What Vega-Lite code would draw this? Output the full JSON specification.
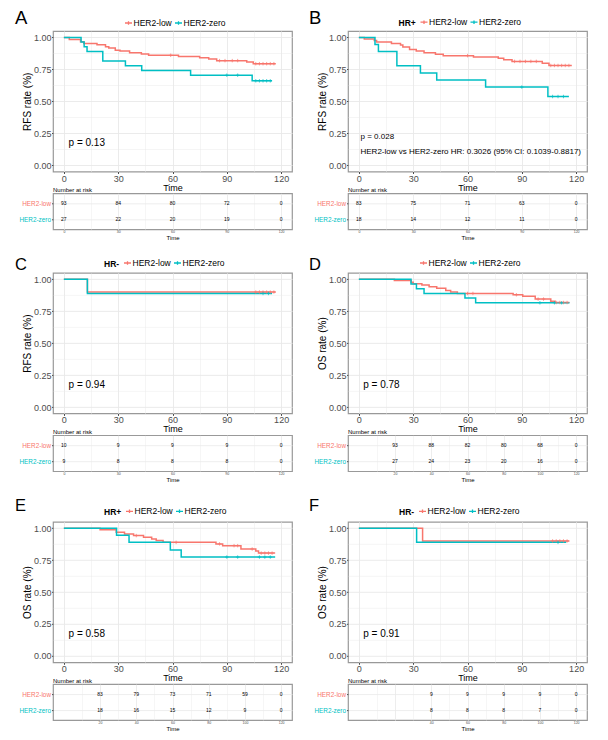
{
 "$schema": "https://vega.github.io/schema/vega-lite/v6.json",
 "background": "white",
 "padding": {"left": 14, "top": 8, "right": 5, "bottom": 5},
 "config": {"font": "Liberation Sans", "view": {"stroke": "#999999", "strokeWidth": 1.2}},
 "datasets": {
  "km": [
   {"panel":"A","group":"HER2-low","time":0,"surv":1},{"panel":"A","group":"HER2-low","time":3,"surv":0.984},{"panel":"A","group":"HER2-low","time":9.2,"surv":0.966},{"panel":"A","group":"HER2-low","time":11,"surv":0.953},{"panel":"A","group":"HER2-low","time":18.3,"surv":0.943},{"panel":"A","group":"HER2-low","time":23,"surv":0.927},{"panel":"A","group":"HER2-low","time":24.8,"surv":0.917},{"panel":"A","group":"HER2-low","time":28.4,"surv":0.9},{"panel":"A","group":"HER2-low","time":31,"surv":0.893},{"panel":"A","group":"HER2-low","time":36.3,"surv":0.88},{"panel":"A","group":"HER2-low","time":42.8,"surv":0.87},{"panel":"A","group":"HER2-low","time":46.8,"surv":0.86},{"panel":"A","group":"HER2-low","time":63.3,"surv":0.85},{"panel":"A","group":"HER2-low","time":75,"surv":0.84},{"panel":"A","group":"HER2-low","time":80,"surv":0.83},{"panel":"A","group":"HER2-low","time":84.4,"surv":0.818},{"panel":"A","group":"HER2-low","time":101,"surv":0.807},{"panel":"A","group":"HER2-low","time":104.6,"surv":0.794},{"panel":"A","group":"HER2-low","time":117,"surv":0.794},
   {"panel":"A","group":"HER2-zero","time":0,"surv":1},{"panel":"A","group":"HER2-zero","time":9.5,"surv":0.963},{"panel":"A","group":"HER2-zero","time":11.2,"surv":0.926},{"panel":"A","group":"HER2-zero","time":12.8,"surv":0.889},{"panel":"A","group":"HER2-zero","time":21.5,"surv":0.815},{"panel":"A","group":"HER2-zero","time":34,"surv":0.778},{"panel":"A","group":"HER2-zero","time":43,"surv":0.741},{"panel":"A","group":"HER2-zero","time":70,"surv":0.704},{"panel":"A","group":"HER2-zero","time":104,"surv":0.66},{"panel":"A","group":"HER2-zero","time":115,"surv":0.66},
   {"panel":"B","group":"HER2-low","time":0,"surv":1},{"panel":"B","group":"HER2-low","time":3,"surv":0.988},{"panel":"B","group":"HER2-low","time":8.5,"surv":0.976},{"panel":"B","group":"HER2-low","time":9.8,"surv":0.964},{"panel":"B","group":"HER2-low","time":18,"surv":0.952},{"panel":"B","group":"HER2-low","time":23,"surv":0.94},{"panel":"B","group":"HER2-low","time":24.3,"surv":0.924},{"panel":"B","group":"HER2-low","time":28,"surv":0.906},{"panel":"B","group":"HER2-low","time":31.7,"surv":0.893},{"panel":"B","group":"HER2-low","time":36,"surv":0.88},{"panel":"B","group":"HER2-low","time":42.3,"surv":0.867},{"panel":"B","group":"HER2-low","time":46.6,"surv":0.857},{"panel":"B","group":"HER2-low","time":63.3,"surv":0.846},{"panel":"B","group":"HER2-low","time":77,"surv":0.836},{"panel":"B","group":"HER2-low","time":80,"surv":0.825},{"panel":"B","group":"HER2-low","time":84.6,"surv":0.812},{"panel":"B","group":"HER2-low","time":101.3,"surv":0.797},{"panel":"B","group":"HER2-low","time":105,"surv":0.78},{"panel":"B","group":"HER2-low","time":117.6,"surv":0.78},
   {"panel":"B","group":"HER2-zero","time":0,"surv":1},{"panel":"B","group":"HER2-zero","time":8.9,"surv":0.944},{"panel":"B","group":"HER2-zero","time":10.8,"surv":0.889},{"panel":"B","group":"HER2-zero","time":21,"surv":0.778},{"panel":"B","group":"HER2-zero","time":34,"surv":0.722},{"panel":"B","group":"HER2-zero","time":43,"surv":0.667},{"panel":"B","group":"HER2-zero","time":70,"surv":0.611},{"panel":"B","group":"HER2-zero","time":104.4,"surv":0.537},{"panel":"B","group":"HER2-zero","time":116,"surv":0.537},
   {"panel":"C","group":"HER2-low","time":0,"surv":1},{"panel":"C","group":"HER2-low","time":13,"surv":0.9},{"panel":"C","group":"HER2-low","time":117,"surv":0.9},
   {"panel":"C","group":"HER2-zero","time":0,"surv":1},{"panel":"C","group":"HER2-zero","time":13,"surv":0.889},{"panel":"C","group":"HER2-zero","time":115,"surv":0.889},
   {"panel":"D","group":"HER2-low","time":0,"surv":1},{"panel":"D","group":"HER2-low","time":19.6,"surv":0.99},{"panel":"D","group":"HER2-low","time":28.9,"surv":0.976},{"panel":"D","group":"HER2-low","time":30,"surv":0.966},{"panel":"D","group":"HER2-low","time":34.8,"surv":0.955},{"panel":"D","group":"HER2-low","time":38.8,"surv":0.942},{"panel":"D","group":"HER2-low","time":43,"surv":0.929},{"panel":"D","group":"HER2-low","time":48,"surv":0.913},{"panel":"D","group":"HER2-low","time":50.7,"surv":0.9},{"panel":"D","group":"HER2-low","time":54.4,"surv":0.889},{"panel":"D","group":"HER2-low","time":85.2,"surv":0.879},{"panel":"D","group":"HER2-low","time":90.5,"surv":0.868},{"panel":"D","group":"HER2-low","time":97.4,"surv":0.845},{"panel":"D","group":"HER2-low","time":106,"surv":0.829},{"panel":"D","group":"HER2-low","time":108.4,"surv":0.818},{"panel":"D","group":"HER2-low","time":116.3,"surv":0.818},
   {"panel":"D","group":"HER2-zero","time":0,"surv":1},{"panel":"D","group":"HER2-zero","time":28.8,"surv":0.963},{"panel":"D","group":"HER2-zero","time":31.8,"surv":0.926},{"panel":"D","group":"HER2-zero","time":36,"surv":0.889},{"panel":"D","group":"HER2-zero","time":58.6,"surv":0.853},{"panel":"D","group":"HER2-zero","time":64.5,"surv":0.816},{"panel":"D","group":"HER2-zero","time":116.3,"surv":0.816},
   {"panel":"E","group":"HER2-low","time":0,"surv":1},{"panel":"E","group":"HER2-low","time":20,"surv":0.988},{"panel":"E","group":"HER2-low","time":28.9,"surv":0.968},{"panel":"E","group":"HER2-low","time":33.5,"surv":0.955},{"panel":"E","group":"HER2-low","time":38.5,"surv":0.942},{"panel":"E","group":"HER2-low","time":44,"surv":0.929},{"panel":"E","group":"HER2-low","time":48.5,"surv":0.916},{"panel":"E","group":"HER2-low","time":51,"surv":0.903},{"panel":"E","group":"HER2-low","time":54.8,"surv":0.889},{"panel":"E","group":"HER2-low","time":84,"surv":0.877},{"panel":"E","group":"HER2-low","time":87.7,"surv":0.863},{"panel":"E","group":"HER2-low","time":97.8,"surv":0.837},{"panel":"E","group":"HER2-low","time":106,"surv":0.821},{"panel":"E","group":"HER2-low","time":107.5,"surv":0.805},{"panel":"E","group":"HER2-low","time":116.7,"surv":0.805},
   {"panel":"E","group":"HER2-zero","time":0,"surv":1},{"panel":"E","group":"HER2-zero","time":29.1,"surv":0.944},{"panel":"E","group":"HER2-zero","time":36,"surv":0.889},{"panel":"E","group":"HER2-zero","time":58.8,"surv":0.83},{"panel":"E","group":"HER2-zero","time":64.8,"surv":0.774},{"panel":"E","group":"HER2-zero","time":116.7,"surv":0.774},
   {"panel":"F","group":"HER2-low","time":0,"surv":1},{"panel":"F","group":"HER2-low","time":35.2,"surv":0.9},{"panel":"F","group":"HER2-low","time":116.3,"surv":0.9},
   {"panel":"F","group":"HER2-zero","time":0,"surv":1},{"panel":"F","group":"HER2-zero","time":31.9,"surv":0.889},{"panel":"F","group":"HER2-zero","time":114.5,"surv":0.889}
  ],
  "cens": [
   {"panel":"A","group":"HER2-low","time":59,"surv":0.86},{"panel":"A","group":"HER2-low","time":86,"surv":0.818},{"panel":"A","group":"HER2-low","time":89,"surv":0.818},{"panel":"A","group":"HER2-low","time":93,"surv":0.818},{"panel":"A","group":"HER2-low","time":96,"surv":0.818},{"panel":"A","group":"HER2-low","time":106,"surv":0.794},{"panel":"A","group":"HER2-low","time":108,"surv":0.794},{"panel":"A","group":"HER2-low","time":110,"surv":0.794},{"panel":"A","group":"HER2-low","time":112,"surv":0.794},{"panel":"A","group":"HER2-low","time":114,"surv":0.794},{"panel":"A","group":"HER2-low","time":116,"surv":0.794},
   {"panel":"A","group":"HER2-zero","time":90,"surv":0.704},{"panel":"A","group":"HER2-zero","time":96,"surv":0.704},{"panel":"A","group":"HER2-zero","time":106,"surv":0.66},{"panel":"A","group":"HER2-zero","time":108,"surv":0.66},{"panel":"A","group":"HER2-zero","time":110,"surv":0.66},{"panel":"A","group":"HER2-zero","time":112,"surv":0.66},{"panel":"A","group":"HER2-zero","time":114,"surv":0.66},
   {"panel":"B","group":"HER2-low","time":60,"surv":0.857},{"panel":"B","group":"HER2-low","time":86,"surv":0.812},{"panel":"B","group":"HER2-low","time":89,"surv":0.812},{"panel":"B","group":"HER2-low","time":92,"surv":0.812},{"panel":"B","group":"HER2-low","time":95,"surv":0.812},{"panel":"B","group":"HER2-low","time":98,"surv":0.812},{"panel":"B","group":"HER2-low","time":106,"surv":0.78},{"panel":"B","group":"HER2-low","time":108,"surv":0.78},{"panel":"B","group":"HER2-low","time":110,"surv":0.78},{"panel":"B","group":"HER2-low","time":112,"surv":0.78},{"panel":"B","group":"HER2-low","time":114,"surv":0.78},{"panel":"B","group":"HER2-low","time":116,"surv":0.78},
   {"panel":"B","group":"HER2-zero","time":90,"surv":0.611},{"panel":"B","group":"HER2-zero","time":107,"surv":0.537},{"panel":"B","group":"HER2-zero","time":110,"surv":0.537},{"panel":"B","group":"HER2-zero","time":113,"surv":0.537},
   {"panel":"C","group":"HER2-low","time":106,"surv":0.9},{"panel":"C","group":"HER2-low","time":108,"surv":0.9},{"panel":"C","group":"HER2-low","time":110,"surv":0.9},{"panel":"C","group":"HER2-low","time":112,"surv":0.9},{"panel":"C","group":"HER2-low","time":114,"surv":0.9},{"panel":"C","group":"HER2-low","time":116,"surv":0.9},
   {"panel":"C","group":"HER2-zero","time":110,"surv":0.889},{"panel":"C","group":"HER2-zero","time":113,"surv":0.889},
   {"panel":"D","group":"HER2-low","time":60,"surv":0.889},{"panel":"D","group":"HER2-low","time":63,"surv":0.889},{"panel":"D","group":"HER2-low","time":87,"surv":0.879},{"panel":"D","group":"HER2-low","time":99,"surv":0.845},{"panel":"D","group":"HER2-low","time":102,"surv":0.845},{"panel":"D","group":"HER2-low","time":109,"surv":0.818},{"panel":"D","group":"HER2-low","time":111,"surv":0.818},{"panel":"D","group":"HER2-low","time":113,"surv":0.818},{"panel":"D","group":"HER2-low","time":115,"surv":0.818},
   {"panel":"D","group":"HER2-zero","time":100,"surv":0.816},{"panel":"D","group":"HER2-zero","time":108,"surv":0.816},{"panel":"D","group":"HER2-zero","time":112,"surv":0.816},
   {"panel":"E","group":"HER2-low","time":40,"surv":0.942},{"panel":"E","group":"HER2-low","time":62,"surv":0.889},{"panel":"E","group":"HER2-low","time":86,"surv":0.877},{"panel":"E","group":"HER2-low","time":94,"surv":0.863},{"panel":"E","group":"HER2-low","time":96,"surv":0.863},{"panel":"E","group":"HER2-low","time":104,"surv":0.837},{"panel":"E","group":"HER2-low","time":109,"surv":0.805},{"panel":"E","group":"HER2-low","time":111,"surv":0.805},{"panel":"E","group":"HER2-low","time":113,"surv":0.805},{"panel":"E","group":"HER2-low","time":115,"surv":0.805},
   {"panel":"E","group":"HER2-zero","time":90,"surv":0.774},{"panel":"E","group":"HER2-zero","time":96,"surv":0.774},{"panel":"E","group":"HER2-zero","time":108,"surv":0.774},{"panel":"E","group":"HER2-zero","time":111,"surv":0.774},{"panel":"E","group":"HER2-zero","time":114,"surv":0.774},
   {"panel":"F","group":"HER2-low","time":107,"surv":0.9},{"panel":"F","group":"HER2-low","time":109,"surv":0.9},{"panel":"F","group":"HER2-low","time":111,"surv":0.9},{"panel":"F","group":"HER2-low","time":113,"surv":0.9},{"panel":"F","group":"HER2-low","time":115,"surv":0.9},
   {"panel":"F","group":"HER2-zero","time":110,"surv":0.889}
  ],
  "risk": [
   {"panel":"A","group":"HER2-low","time":0,"n":93},{"panel":"A","group":"HER2-low","time":30,"n":84},{"panel":"A","group":"HER2-low","time":60,"n":80},{"panel":"A","group":"HER2-low","time":90,"n":72},{"panel":"A","group":"HER2-low","time":120,"n":0},
   {"panel":"A","group":"HER2-zero","time":0,"n":27},{"panel":"A","group":"HER2-zero","time":30,"n":22},{"panel":"A","group":"HER2-zero","time":60,"n":20},{"panel":"A","group":"HER2-zero","time":90,"n":19},{"panel":"A","group":"HER2-zero","time":120,"n":0},
   {"panel":"B","group":"HER2-low","time":0,"n":83},{"panel":"B","group":"HER2-low","time":30,"n":75},{"panel":"B","group":"HER2-low","time":60,"n":71},{"panel":"B","group":"HER2-low","time":90,"n":63},{"panel":"B","group":"HER2-low","time":120,"n":0},
   {"panel":"B","group":"HER2-zero","time":0,"n":18},{"panel":"B","group":"HER2-zero","time":30,"n":14},{"panel":"B","group":"HER2-zero","time":60,"n":12},{"panel":"B","group":"HER2-zero","time":90,"n":11},{"panel":"B","group":"HER2-zero","time":120,"n":0},
   {"panel":"C","group":"HER2-low","time":0,"n":10},{"panel":"C","group":"HER2-low","time":30,"n":9},{"panel":"C","group":"HER2-low","time":60,"n":9},{"panel":"C","group":"HER2-low","time":90,"n":9},{"panel":"C","group":"HER2-low","time":120,"n":0},
   {"panel":"C","group":"HER2-zero","time":0,"n":9},{"panel":"C","group":"HER2-zero","time":30,"n":8},{"panel":"C","group":"HER2-zero","time":60,"n":8},{"panel":"C","group":"HER2-zero","time":90,"n":8},{"panel":"C","group":"HER2-zero","time":120,"n":0},
   {"panel":"D","group":"HER2-low","time":20,"n":93},{"panel":"D","group":"HER2-low","time":40,"n":88},{"panel":"D","group":"HER2-low","time":60,"n":82},{"panel":"D","group":"HER2-low","time":80,"n":80},{"panel":"D","group":"HER2-low","time":100,"n":68},{"panel":"D","group":"HER2-low","time":120,"n":0},
   {"panel":"D","group":"HER2-zero","time":20,"n":27},{"panel":"D","group":"HER2-zero","time":40,"n":24},{"panel":"D","group":"HER2-zero","time":60,"n":23},{"panel":"D","group":"HER2-zero","time":80,"n":20},{"panel":"D","group":"HER2-zero","time":100,"n":16},{"panel":"D","group":"HER2-zero","time":120,"n":0},
   {"panel":"E","group":"HER2-low","time":20,"n":83},{"panel":"E","group":"HER2-low","time":40,"n":79},{"panel":"E","group":"HER2-low","time":60,"n":73},{"panel":"E","group":"HER2-low","time":80,"n":71},{"panel":"E","group":"HER2-low","time":100,"n":59},{"panel":"E","group":"HER2-low","time":120,"n":0},
   {"panel":"E","group":"HER2-zero","time":20,"n":18},{"panel":"E","group":"HER2-zero","time":40,"n":16},{"panel":"E","group":"HER2-zero","time":60,"n":15},{"panel":"E","group":"HER2-zero","time":80,"n":12},{"panel":"E","group":"HER2-zero","time":100,"n":9},{"panel":"E","group":"HER2-zero","time":120,"n":0},
   {"panel":"F","group":"HER2-low","time":40,"n":9},{"panel":"F","group":"HER2-low","time":60,"n":9},{"panel":"F","group":"HER2-low","time":80,"n":9},{"panel":"F","group":"HER2-low","time":100,"n":9},{"panel":"F","group":"HER2-low","time":120,"n":0},
   {"panel":"F","group":"HER2-zero","time":40,"n":8},{"panel":"F","group":"HER2-zero","time":60,"n":8},{"panel":"F","group":"HER2-zero","time":80,"n":8},{"panel":"F","group":"HER2-zero","time":100,"n":7},{"panel":"F","group":"HER2-zero","time":120,"n":0}
  ]
 },
 "columns": 2,
 "bounds": "flush",
 "spacing": {"row": 21.3, "column": 56},
 "resolve": {"scale": {"color": "independent"}, "legend": {"color": "independent"}},
 "concat": [
  {
   "width": 239, "height": 140.5,
   "layer": [
    {"data": {"name": "km"}, "transform": [{"filter": "datum.panel === 'A'"}],
     "mark": {"type": "line", "interpolate": "step-after", "strokeWidth": 1.5},
     "encoding": {
      "x": {"field": "time", "type": "quantitative", "scale": {"domain": [-6, 126], "nice": false, "zero": false},
       "axis": {"values": [0,15,30,45,60,75,90,105,120], "tickCount": 50, "labelExpr": "datum.value % 30 === 0 ? datum.label : ''", "format": "d", "title": "Time", "titleFontSize": 9, "titleFontWeight": "normal", "titleColor": "black", "titlePadding": 0, "labelFontSize": 9, "labelColor": "#4d4d4d", "labelPadding": 0.5, "labelOverlap": false, "labelFlush": false, "tickSize": 2, "tickColor": "#4d4d4d", "tickOpacity": {"condition": {"test": "datum.value % 30 === 0", "value": 1}, "value": 0}, "grid": true, "gridColor": "#e9e9e9", "gridWidth": {"condition": {"test": "datum.value % 30 === 0", "value": 0.9}, "value": 0.45}, "domain": false}},
      "y": {"field": "surv", "type": "quantitative", "scale": {"domain": [-0.05, 1.05], "nice": false, "zero": false},
       "axis": {"values": [0,0.125,0.25,0.375,0.5,0.625,0.75,0.875,1], "tickCount": 50, "labelExpr": "(datum.value*4) % 1 === 0 ? format(datum.value, '.2f') : ''", "title": "RFS rate (%)", "titleFontSize": 10, "titleFontWeight": "normal", "titleColor": "black", "titlePadding": 1, "labelFontSize": 9, "labelColor": "#4d4d4d", "labelPadding": 0.5, "labelOverlap": false, "tickSize": 1.5, "tickColor": "#4d4d4d", "tickOpacity": {"condition": {"test": "(datum.value*4) % 1 === 0", "value": 1}, "value": 0}, "grid": true, "gridColor": "#e9e9e9", "gridWidth": {"condition": {"test": "(datum.value*4) % 1 === 0", "value": 0.9}, "value": 0.45}, "domain": false}},
      "color": {"field": "group", "type": "nominal", "scale": {"domain": ["HER2-low", "HER2-zero"], "range": ["#F8766D", "#00BFC4"]},
       "legend": {"orient": "none", "legendX": 71, "legendY": -12.5, "direction": "horizontal", "title": null, "labelFontSize": 8.5, "labelColor": "black", "symbolType": "M-1,0H1M0,-0.5V0.5", "symbolSize": 49, "symbolStrokeWidth": 1.3, "labelOffset": 0.5, "columnPadding": 0, "padding": 0}}
     }},
    {"data": {"name": "cens"}, "transform": [{"filter": "datum.panel === 'A'"}],
     "mark": {"type": "point", "shape": "M-1,0H1M0,-1V1", "filled": false, "size": 12, "strokeWidth": 0.7, "opacity": 1},
     "encoding": {"x": {"field": "time", "type": "quantitative"}, "y": {"field": "surv", "type": "quantitative"}, "color": {"field": "group", "type": "nominal", "legend": null}}},
    {"data": {"values": [{}]}, "mark": {"type": "text", "align": "left", "baseline": "middle", "fontSize": 10, "color": "black"},
     "encoding": {"x": {"datum": 2.6, "type": "quantitative"}, "y": {"datum": 0.175, "type": "quantitative"}, "text": {"value": "p = 0.13"}}},
    {"data": {"values": [{}]}, "mark": {"type": "text", "align": "left", "baseline": "alphabetic", "fontSize": 18.5, "color": "black"},
     "encoding": {"x": {"datum": -27, "type": "quantitative"}, "y": {"datum": 1.1017, "type": "quantitative"}, "text": {"value": "A"}}}
   ]
  },
  {
   "width": 239, "height": 140.5,
   "layer": [
    {"data": {"name": "km"}, "transform": [{"filter": "datum.panel === 'B'"}],
     "mark": {"type": "line", "interpolate": "step-after", "strokeWidth": 1.5},
     "encoding": {
      "x": {"field": "time", "type": "quantitative", "scale": {"domain": [-6, 126], "nice": false, "zero": false},
       "axis": {"values": [0,15,30,45,60,75,90,105,120], "tickCount": 50, "labelExpr": "datum.value % 30 === 0 ? datum.label : ''", "format": "d", "title": "Time", "titleFontSize": 9, "titleFontWeight": "normal", "titleColor": "black", "titlePadding": 0, "labelFontSize": 9, "labelColor": "#4d4d4d", "labelPadding": 0.5, "labelOverlap": false, "labelFlush": false, "tickSize": 2, "tickColor": "#4d4d4d", "tickOpacity": {"condition": {"test": "datum.value % 30 === 0", "value": 1}, "value": 0}, "grid": true, "gridColor": "#e9e9e9", "gridWidth": {"condition": {"test": "datum.value % 30 === 0", "value": 0.9}, "value": 0.45}, "domain": false}},
      "y": {"field": "surv", "type": "quantitative", "scale": {"domain": [-0.05, 1.05], "nice": false, "zero": false},
       "axis": {"values": [0,0.125,0.25,0.375,0.5,0.625,0.75,0.875,1], "tickCount": 50, "labelExpr": "(datum.value*4) % 1 === 0 ? format(datum.value, '.2f') : ''", "title": "RFS rate (%)", "titleFontSize": 10, "titleFontWeight": "normal", "titleColor": "black", "titlePadding": 1, "labelFontSize": 9, "labelColor": "#4d4d4d", "labelPadding": 0.5, "labelOverlap": false, "tickSize": 1.5, "tickColor": "#4d4d4d", "tickOpacity": {"condition": {"test": "(datum.value*4) % 1 === 0", "value": 1}, "value": 0}, "grid": true, "gridColor": "#e9e9e9", "gridWidth": {"condition": {"test": "(datum.value*4) % 1 === 0", "value": 0.9}, "value": 0.45}, "domain": false}},
      "color": {"field": "group", "type": "nominal", "scale": {"domain": ["HER2-low", "HER2-zero"], "range": ["#F8766D", "#00BFC4"]},
       "legend": {"orient": "none", "legendX": 50.5, "legendY": -13.3, "direction": "horizontal", "title": "HR+", "titleOrient": "left", "titleFontWeight": "bold", "titleFontSize": 8.5, "titleColor": "black", "titlePadding": 3, "labelFontSize": 8.5, "labelColor": "black", "symbolType": "M-1,0H1M0,-0.5V0.5", "symbolSize": 49, "symbolStrokeWidth": 1.3, "labelOffset": 0.5, "columnPadding": 0, "padding": 0}}
     }},
    {"data": {"name": "cens"}, "transform": [{"filter": "datum.panel === 'B'"}],
     "mark": {"type": "point", "shape": "M-1,0H1M0,-1V1", "filled": false, "size": 12, "strokeWidth": 0.7, "opacity": 1},
     "encoding": {"x": {"field": "time", "type": "quantitative"}, "y": {"field": "surv", "type": "quantitative"}, "color": {"field": "group", "type": "nominal", "legend": null}}},
    {"data": {"values": [{"label": "p = 0.028", "tx": 0.9, "ty": 0.222}, {"label": "HER2-low vs HER2-zero HR: 0.3026 (95% CI: 0.1039-0.8817)", "tx": 0.9, "ty": 0.1}]}, "mark": {"type": "text", "align": "left", "baseline": "middle", "fontSize": 8, "color": "black"},
     "encoding": {"x": {"field": "tx", "type": "quantitative"}, "y": {"field": "ty", "type": "quantitative"}, "text": {"field": "label"}}},
    {"data": {"values": [{}]}, "mark": {"type": "text", "align": "left", "baseline": "alphabetic", "fontSize": 18.5, "color": "black"},
     "encoding": {"x": {"datum": -27.5, "type": "quantitative"}, "y": {"datum": 1.1017, "type": "quantitative"}, "text": {"value": "B"}}}
   ]
  },
  {
   "width": 239, "height": 36,
   "title": {"text": "Number at risk", "anchor": "start", "frame": "group", "fontSize": 6, "fontWeight": "normal", "color": "black", "offset": 0.5},
   "data": {"name": "risk"}, "transform": [{"filter": "datum.panel === 'A'"}],
   "mark": {"type": "text", "fontSize": 5, "color": "black"},
   "encoding": {
    "x": {"field": "time", "type": "quantitative", "scale": {"domain": [-6, 126], "nice": false, "zero": false},
     "axis": {"values": [0,15,30,45,60,75,90,105,120], "tickCount": 50, "labelExpr": "datum.value % 30 === 0 ? datum.label : ''", "format": "d", "title": "Time", "titleFontSize": 6, "titleFontWeight": "normal", "titleColor": "black", "titlePadding": 1, "labelFontSize": 3.5, "labelColor": "#4d4d4d", "labelPadding": 0.5, "labelOverlap": false, "labelFlush": false, "ticks": false, "grid": true, "gridColor": "#e9e9e9", "gridWidth": {"condition": {"test": "datum.value % 30 === 0", "value": 0.8}, "value": 0.4}, "domain": false}},
    "y": {"field": "group", "type": "nominal", "sort": ["HER2-low", "HER2-zero"], "scale": {"type": "point", "padding": 0.625},
     "axis": {"title": null, "labelFontSize": 6.4, "labelColor": {"condition": {"test": "datum.value === 'HER2-low'", "value": "#F8766D"}, "value": "#00BFC4"}, "labelPadding": 1, "tickSize": 1.5, "tickColor": "#4d4d4d", "grid": true, "gridColor": "#e9e9e9", "gridWidth": 0.8, "domain": false}},
    "text": {"field": "n", "type": "quantitative"}
   }
  },
  {
   "width": 239, "height": 36,
   "title": {"text": "Number at risk", "anchor": "start", "frame": "group", "fontSize": 6, "fontWeight": "normal", "color": "black", "offset": 0.5},
   "data": {"name": "risk"}, "transform": [{"filter": "datum.panel === 'B'"}],
   "mark": {"type": "text", "fontSize": 5, "color": "black"},
   "encoding": {
    "x": {"field": "time", "type": "quantitative", "scale": {"domain": [-6, 126], "nice": false, "zero": false},
     "axis": {"values": [0,15,30,45,60,75,90,105,120], "tickCount": 50, "labelExpr": "datum.value % 30 === 0 ? datum.label : ''", "format": "d", "title": "Time", "titleFontSize": 6, "titleFontWeight": "normal", "titleColor": "black", "titlePadding": 1, "labelFontSize": 3.5, "labelColor": "#4d4d4d", "labelPadding": 0.5, "labelOverlap": false, "labelFlush": false, "ticks": false, "grid": true, "gridColor": "#e9e9e9", "gridWidth": {"condition": {"test": "datum.value % 30 === 0", "value": 0.8}, "value": 0.4}, "domain": false}},
    "y": {"field": "group", "type": "nominal", "sort": ["HER2-low", "HER2-zero"], "scale": {"type": "point", "padding": 0.625},
     "axis": {"title": null, "labelFontSize": 6.4, "labelColor": {"condition": {"test": "datum.value === 'HER2-low'", "value": "#F8766D"}, "value": "#00BFC4"}, "labelPadding": 1, "tickSize": 1.5, "tickColor": "#4d4d4d", "grid": true, "gridColor": "#e9e9e9", "gridWidth": 0.8, "domain": false}},
    "text": {"field": "n", "type": "quantitative"}
   }
  },
  {"width": 239, "height": 0.6, "data": {"values": [{}]}, "mark": "text", "encoding": {"text": {"value": ""}}, "view": {"stroke": null}},
  {"width": 239, "height": 0.6, "data": {"values": [{}]}, "mark": "text", "encoding": {"text": {"value": ""}}, "view": {"stroke": null}},
  {
   "width": 239, "height": 140.5,
   "layer": [
    {"data": {"name": "km"}, "transform": [{"filter": "datum.panel === 'C'"}],
     "mark": {"type": "line", "interpolate": "step-after", "strokeWidth": 1.5},
     "encoding": {
      "x": {"field": "time", "type": "quantitative", "scale": {"domain": [-6, 126], "nice": false, "zero": false},
       "axis": {"values": [0,15,30,45,60,75,90,105,120], "tickCount": 50, "labelExpr": "datum.value % 30 === 0 ? datum.label : ''", "format": "d", "title": "Time", "titleFontSize": 9, "titleFontWeight": "normal", "titleColor": "black", "titlePadding": 0, "labelFontSize": 9, "labelColor": "#4d4d4d", "labelPadding": 0.5, "labelOverlap": false, "labelFlush": false, "tickSize": 2, "tickColor": "#4d4d4d", "tickOpacity": {"condition": {"test": "datum.value % 30 === 0", "value": 1}, "value": 0}, "grid": true, "gridColor": "#e9e9e9", "gridWidth": {"condition": {"test": "datum.value % 30 === 0", "value": 0.9}, "value": 0.45}, "domain": false}},
      "y": {"field": "surv", "type": "quantitative", "scale": {"domain": [-0.05, 1.05], "nice": false, "zero": false},
       "axis": {"values": [0,0.125,0.25,0.375,0.5,0.625,0.75,0.875,1], "tickCount": 50, "labelExpr": "(datum.value*4) % 1 === 0 ? format(datum.value, '.2f') : ''", "title": "RFS rate (%)", "titleFontSize": 10, "titleFontWeight": "normal", "titleColor": "black", "titlePadding": 1, "labelFontSize": 9, "labelColor": "#4d4d4d", "labelPadding": 0.5, "labelOverlap": false, "tickSize": 1.5, "tickColor": "#4d4d4d", "tickOpacity": {"condition": {"test": "(datum.value*4) % 1 === 0", "value": 1}, "value": 0}, "grid": true, "gridColor": "#e9e9e9", "gridWidth": {"condition": {"test": "(datum.value*4) % 1 === 0", "value": 0.9}, "value": 0.45}, "domain": false}},
      "color": {"field": "group", "type": "nominal", "scale": {"domain": ["HER2-low", "HER2-zero"], "range": ["#F8766D", "#00BFC4"]},
       "legend": {"orient": "none", "legendX": 51, "legendY": -14.4, "direction": "horizontal", "title": "HR-", "titleOrient": "left", "titleFontWeight": "bold", "titleFontSize": 8.5, "titleColor": "black", "titlePadding": 3, "labelFontSize": 8.5, "labelColor": "black", "symbolType": "M-1,0H1M0,-0.5V0.5", "symbolSize": 49, "symbolStrokeWidth": 1.3, "labelOffset": 0.5, "columnPadding": 0, "padding": 0}}
     }},
    {"data": {"name": "cens"}, "transform": [{"filter": "datum.panel === 'C'"}],
     "mark": {"type": "point", "shape": "M-1,0H1M0,-1V1", "filled": false, "size": 12, "strokeWidth": 0.7, "opacity": 1},
     "encoding": {"x": {"field": "time", "type": "quantitative"}, "y": {"field": "surv", "type": "quantitative"}, "color": {"field": "group", "type": "nominal", "legend": null}}},
    {"data": {"values": [{}]}, "mark": {"type": "text", "align": "left", "baseline": "middle", "fontSize": 10, "color": "black"},
     "encoding": {"x": {"datum": 2.6, "type": "quantitative"}, "y": {"datum": 0.17, "type": "quantitative"}, "text": {"value": "p = 0.94"}}},
    {"data": {"values": [{}]}, "mark": {"type": "text", "align": "left", "baseline": "alphabetic", "fontSize": 16.5, "color": "black"},
     "encoding": {"x": {"datum": -27, "type": "quantitative"}, "y": {"datum": 1.0711, "type": "quantitative"}, "text": {"value": "C"}}}
   ]
  },
  {
   "width": 239, "height": 140.5,
   "layer": [
    {"data": {"name": "km"}, "transform": [{"filter": "datum.panel === 'D'"}],
     "mark": {"type": "line", "interpolate": "step-after", "strokeWidth": 1.5},
     "encoding": {
      "x": {"field": "time", "type": "quantitative", "scale": {"domain": [-6, 126], "nice": false, "zero": false},
       "axis": {"values": [0,15,30,45,60,75,90,105,120], "tickCount": 50, "labelExpr": "datum.value % 30 === 0 ? datum.label : ''", "format": "d", "title": "Time", "titleFontSize": 9, "titleFontWeight": "normal", "titleColor": "black", "titlePadding": 0, "labelFontSize": 9, "labelColor": "#4d4d4d", "labelPadding": 0.5, "labelOverlap": false, "labelFlush": false, "tickSize": 2, "tickColor": "#4d4d4d", "tickOpacity": {"condition": {"test": "datum.value % 30 === 0", "value": 1}, "value": 0}, "grid": true, "gridColor": "#e9e9e9", "gridWidth": {"condition": {"test": "datum.value % 30 === 0", "value": 0.9}, "value": 0.45}, "domain": false}},
      "y": {"field": "surv", "type": "quantitative", "scale": {"domain": [-0.05, 1.05], "nice": false, "zero": false},
       "axis": {"values": [0,0.125,0.25,0.375,0.5,0.625,0.75,0.875,1], "tickCount": 50, "labelExpr": "(datum.value*4) % 1 === 0 ? format(datum.value, '.2f') : ''", "title": "OS rate (%)", "titleFontSize": 10, "titleFontWeight": "normal", "titleColor": "black", "titlePadding": 1, "labelFontSize": 9, "labelColor": "#4d4d4d", "labelPadding": 0.5, "labelOverlap": false, "tickSize": 1.5, "tickColor": "#4d4d4d", "tickOpacity": {"condition": {"test": "(datum.value*4) % 1 === 0", "value": 1}, "value": 0}, "grid": true, "gridColor": "#e9e9e9", "gridWidth": {"condition": {"test": "(datum.value*4) % 1 === 0", "value": 0.9}, "value": 0.45}, "domain": false}},
      "color": {"field": "group", "type": "nominal", "scale": {"domain": ["HER2-low", "HER2-zero"], "range": ["#F8766D", "#00BFC4"]},
       "legend": {"orient": "none", "legendX": 71, "legendY": -14.4, "direction": "horizontal", "title": null, "labelFontSize": 8.5, "labelColor": "black", "symbolType": "M-1,0H1M0,-0.5V0.5", "symbolSize": 49, "symbolStrokeWidth": 1.3, "labelOffset": 0.5, "columnPadding": 0, "padding": 0}}
     }},
    {"data": {"name": "cens"}, "transform": [{"filter": "datum.panel === 'D'"}],
     "mark": {"type": "point", "shape": "M-1,0H1M0,-1V1", "filled": false, "size": 12, "strokeWidth": 0.7, "opacity": 1},
     "encoding": {"x": {"field": "time", "type": "quantitative"}, "y": {"field": "surv", "type": "quantitative"}, "color": {"field": "group", "type": "nominal", "legend": null}}},
    {"data": {"values": [{}]}, "mark": {"type": "text", "align": "left", "baseline": "middle", "fontSize": 10, "color": "black"},
     "encoding": {"x": {"datum": 2.4, "type": "quantitative"}, "y": {"datum": 0.17, "type": "quantitative"}, "text": {"value": "p = 0.78"}}},
    {"data": {"values": [{}]}, "mark": {"type": "text", "align": "left", "baseline": "alphabetic", "fontSize": 16.5, "color": "black"},
     "encoding": {"x": {"datum": -27.5, "type": "quantitative"}, "y": {"datum": 1.0766, "type": "quantitative"}, "text": {"value": "D"}}}
   ]
  },
  {
   "width": 239, "height": 36,
   "title": {"text": "Number at risk", "anchor": "start", "frame": "group", "fontSize": 6, "fontWeight": "normal", "color": "black", "offset": 0.5},
   "data": {"name": "risk"}, "transform": [{"filter": "datum.panel === 'C'"}],
   "mark": {"type": "text", "fontSize": 5, "color": "black"},
   "encoding": {
    "x": {"field": "time", "type": "quantitative", "scale": {"domain": [-6, 126], "nice": false, "zero": false},
     "axis": {"values": [0,15,30,45,60,75,90,105,120], "tickCount": 50, "labelExpr": "datum.value % 30 === 0 ? datum.label : ''", "format": "d", "title": "Time", "titleFontSize": 6, "titleFontWeight": "normal", "titleColor": "black", "titlePadding": 1, "labelFontSize": 3.5, "labelColor": "#4d4d4d", "labelPadding": 0.5, "labelOverlap": false, "labelFlush": false, "ticks": false, "grid": true, "gridColor": "#e9e9e9", "gridWidth": {"condition": {"test": "datum.value % 30 === 0", "value": 0.8}, "value": 0.4}, "domain": false}},
    "y": {"field": "group", "type": "nominal", "sort": ["HER2-low", "HER2-zero"], "scale": {"type": "point", "padding": 0.625},
     "axis": {"title": null, "labelFontSize": 6.4, "labelColor": {"condition": {"test": "datum.value === 'HER2-low'", "value": "#F8766D"}, "value": "#00BFC4"}, "labelPadding": 1, "tickSize": 1.5, "tickColor": "#4d4d4d", "grid": true, "gridColor": "#e9e9e9", "gridWidth": 0.8, "domain": false}},
    "text": {"field": "n", "type": "quantitative"}
   }
  },
  {
   "width": 239, "height": 36,
   "title": {"text": "Number at risk", "anchor": "start", "frame": "group", "fontSize": 6, "fontWeight": "normal", "color": "black", "offset": 0.5},
   "data": {"name": "risk"}, "transform": [{"filter": "datum.panel === 'D'"}],
   "mark": {"type": "text", "fontSize": 5, "color": "black"},
   "encoding": {
    "x": {"field": "time", "type": "quantitative", "scale": {"domain": [-6, 126], "nice": false, "zero": false},
     "axis": {"values": [10,20,30,40,50,60,70,80,90,100,110,120], "tickCount": 50, "labelExpr": "datum.value % 20 === 0 ? datum.label : ''", "format": "d", "title": "Time", "titleFontSize": 6, "titleFontWeight": "normal", "titleColor": "black", "titlePadding": 1, "labelFontSize": 3.5, "labelColor": "#4d4d4d", "labelPadding": 0.5, "labelOverlap": false, "labelFlush": false, "ticks": false, "grid": true, "gridColor": "#e9e9e9", "gridWidth": {"condition": {"test": "datum.value % 20 === 0", "value": 0.8}, "value": 0.4}, "domain": false}},
    "y": {"field": "group", "type": "nominal", "sort": ["HER2-low", "HER2-zero"], "scale": {"type": "point", "padding": 0.625},
     "axis": {"title": null, "labelFontSize": 6.4, "labelColor": {"condition": {"test": "datum.value === 'HER2-low'", "value": "#F8766D"}, "value": "#00BFC4"}, "labelPadding": 1, "tickSize": 1.5, "tickColor": "#4d4d4d", "grid": true, "gridColor": "#e9e9e9", "gridWidth": 0.8, "domain": false}},
    "text": {"field": "n", "type": "quantitative"}
   }
  },
  {"width": 239, "height": 7.3, "data": {"values": [{}]}, "mark": "text", "encoding": {"text": {"value": ""}}, "view": {"stroke": null}},
  {"width": 239, "height": 7.3, "data": {"values": [{}]}, "mark": "text", "encoding": {"text": {"value": ""}}, "view": {"stroke": null}},
  {
   "width": 239, "height": 140.5,
   "layer": [
    {"data": {"name": "km"}, "transform": [{"filter": "datum.panel === 'E'"}],
     "mark": {"type": "line", "interpolate": "step-after", "strokeWidth": 1.5},
     "encoding": {
      "x": {"field": "time", "type": "quantitative", "scale": {"domain": [-6, 126], "nice": false, "zero": false},
       "axis": {"values": [0,15,30,45,60,75,90,105,120], "tickCount": 50, "labelExpr": "datum.value % 30 === 0 ? datum.label : ''", "format": "d", "title": "Time", "titleFontSize": 9, "titleFontWeight": "normal", "titleColor": "black", "titlePadding": 0, "labelFontSize": 9, "labelColor": "#4d4d4d", "labelPadding": 0.5, "labelOverlap": false, "labelFlush": false, "tickSize": 2, "tickColor": "#4d4d4d", "tickOpacity": {"condition": {"test": "datum.value % 30 === 0", "value": 1}, "value": 0}, "grid": true, "gridColor": "#e9e9e9", "gridWidth": {"condition": {"test": "datum.value % 30 === 0", "value": 0.9}, "value": 0.45}, "domain": false}},
      "y": {"field": "surv", "type": "quantitative", "scale": {"domain": [-0.05, 1.05], "nice": false, "zero": false},
       "axis": {"values": [0,0.125,0.25,0.375,0.5,0.625,0.75,0.875,1], "tickCount": 50, "labelExpr": "(datum.value*4) % 1 === 0 ? format(datum.value, '.2f') : ''", "title": "OS rate (%)", "titleFontSize": 10, "titleFontWeight": "normal", "titleColor": "black", "titlePadding": 1, "labelFontSize": 9, "labelColor": "#4d4d4d", "labelPadding": 0.5, "labelOverlap": false, "tickSize": 1.5, "tickColor": "#4d4d4d", "tickOpacity": {"condition": {"test": "(datum.value*4) % 1 === 0", "value": 1}, "value": 0}, "grid": true, "gridColor": "#e9e9e9", "gridWidth": {"condition": {"test": "(datum.value*4) % 1 === 0", "value": 0.9}, "value": 0.45}, "domain": false}},
      "color": {"field": "group", "type": "nominal", "scale": {"domain": ["HER2-low", "HER2-zero"], "range": ["#F8766D", "#00BFC4"]},
       "legend": {"orient": "none", "legendX": 51, "legendY": -15, "direction": "horizontal", "title": "HR+", "titleOrient": "left", "titleFontWeight": "bold", "titleFontSize": 8.5, "titleColor": "black", "titlePadding": 3, "labelFontSize": 8.5, "labelColor": "black", "symbolType": "M-1,0H1M0,-0.5V0.5", "symbolSize": 49, "symbolStrokeWidth": 1.3, "labelOffset": 0.5, "columnPadding": 0, "padding": 0}}
     }},
    {"data": {"name": "cens"}, "transform": [{"filter": "datum.panel === 'E'"}],
     "mark": {"type": "point", "shape": "M-1,0H1M0,-1V1", "filled": false, "size": 12, "strokeWidth": 0.7, "opacity": 1},
     "encoding": {"x": {"field": "time", "type": "quantitative"}, "y": {"field": "surv", "type": "quantitative"}, "color": {"field": "group", "type": "nominal", "legend": null}}},
    {"data": {"values": [{}]}, "mark": {"type": "text", "align": "left", "baseline": "middle", "fontSize": 10, "color": "black"},
     "encoding": {"x": {"datum": 2.6, "type": "quantitative"}, "y": {"datum": 0.17, "type": "quantitative"}, "text": {"value": "p = 0.58"}}},
    {"data": {"values": [{}]}, "mark": {"type": "text", "align": "left", "baseline": "alphabetic", "fontSize": 16.5, "color": "black"},
     "encoding": {"x": {"datum": -27, "type": "quantitative"}, "y": {"datum": 1.1361, "type": "quantitative"}, "text": {"value": "E"}}}
   ]
  },
  {
   "width": 239, "height": 140.5,
   "layer": [
    {"data": {"name": "km"}, "transform": [{"filter": "datum.panel === 'F'"}],
     "mark": {"type": "line", "interpolate": "step-after", "strokeWidth": 1.5},
     "encoding": {
      "x": {"field": "time", "type": "quantitative", "scale": {"domain": [-6, 126], "nice": false, "zero": false},
       "axis": {"values": [0,15,30,45,60,75,90,105,120], "tickCount": 50, "labelExpr": "datum.value % 30 === 0 ? datum.label : ''", "format": "d", "title": "Time", "titleFontSize": 9, "titleFontWeight": "normal", "titleColor": "black", "titlePadding": 0, "labelFontSize": 9, "labelColor": "#4d4d4d", "labelPadding": 0.5, "labelOverlap": false, "labelFlush": false, "tickSize": 2, "tickColor": "#4d4d4d", "tickOpacity": {"condition": {"test": "datum.value % 30 === 0", "value": 1}, "value": 0}, "grid": true, "gridColor": "#e9e9e9", "gridWidth": {"condition": {"test": "datum.value % 30 === 0", "value": 0.9}, "value": 0.45}, "domain": false}},
      "y": {"field": "surv", "type": "quantitative", "scale": {"domain": [-0.05, 1.05], "nice": false, "zero": false},
       "axis": {"values": [0,0.125,0.25,0.375,0.5,0.625,0.75,0.875,1], "tickCount": 50, "labelExpr": "(datum.value*4) % 1 === 0 ? format(datum.value, '.2f') : ''", "title": "OS rate (%)", "titleFontSize": 10, "titleFontWeight": "normal", "titleColor": "black", "titlePadding": 1, "labelFontSize": 9, "labelColor": "#4d4d4d", "labelPadding": 0.5, "labelOverlap": false, "tickSize": 1.5, "tickColor": "#4d4d4d", "tickOpacity": {"condition": {"test": "(datum.value*4) % 1 === 0", "value": 1}, "value": 0}, "grid": true, "gridColor": "#e9e9e9", "gridWidth": {"condition": {"test": "(datum.value*4) % 1 === 0", "value": 0.9}, "value": 0.45}, "domain": false}},
      "color": {"field": "group", "type": "nominal", "scale": {"domain": ["HER2-low", "HER2-zero"], "range": ["#F8766D", "#00BFC4"]},
       "legend": {"orient": "none", "legendX": 51, "legendY": -15, "direction": "horizontal", "title": "HR-", "titleOrient": "left", "titleFontWeight": "bold", "titleFontSize": 8.5, "titleColor": "black", "titlePadding": 3, "labelFontSize": 8.5, "labelColor": "black", "symbolType": "M-1,0H1M0,-0.5V0.5", "symbolSize": 49, "symbolStrokeWidth": 1.3, "labelOffset": 0.5, "columnPadding": 0, "padding": 0}}
     }},
    {"data": {"name": "cens"}, "transform": [{"filter": "datum.panel === 'F'"}],
     "mark": {"type": "point", "shape": "M-1,0H1M0,-1V1", "filled": false, "size": 12, "strokeWidth": 0.7, "opacity": 1},
     "encoding": {"x": {"field": "time", "type": "quantitative"}, "y": {"field": "surv", "type": "quantitative"}, "color": {"field": "group", "type": "nominal", "legend": null}}},
    {"data": {"values": [{}]}, "mark": {"type": "text", "align": "left", "baseline": "middle", "fontSize": 10, "color": "black"},
     "encoding": {"x": {"datum": 2.4, "type": "quantitative"}, "y": {"datum": 0.17, "type": "quantitative"}, "text": {"value": "p = 0.91"}}},
    {"data": {"values": [{}]}, "mark": {"type": "text", "align": "left", "baseline": "alphabetic", "fontSize": 16.5, "color": "black"},
     "encoding": {"x": {"datum": -27.5, "type": "quantitative"}, "y": {"datum": 1.1361, "type": "quantitative"}, "text": {"value": "F"}}}
   ]
  },
  {
   "width": 239, "height": 36,
   "title": {"text": "Number at risk", "anchor": "start", "frame": "group", "fontSize": 6, "fontWeight": "normal", "color": "black", "offset": 0.5},
   "data": {"name": "risk"}, "transform": [{"filter": "datum.panel === 'E'"}],
   "mark": {"type": "text", "fontSize": 5, "color": "black"},
   "encoding": {
    "x": {"field": "time", "type": "quantitative", "scale": {"domain": [-6, 126], "nice": false, "zero": false},
     "axis": {"values": [10,20,30,40,50,60,70,80,90,100,110,120], "tickCount": 50, "labelExpr": "datum.value % 20 === 0 ? datum.label : ''", "format": "d", "title": "Time", "titleFontSize": 6, "titleFontWeight": "normal", "titleColor": "black", "titlePadding": 1, "labelFontSize": 3.5, "labelColor": "#4d4d4d", "labelPadding": 0.5, "labelOverlap": false, "labelFlush": false, "ticks": false, "grid": true, "gridColor": "#e9e9e9", "gridWidth": {"condition": {"test": "datum.value % 20 === 0", "value": 0.8}, "value": 0.4}, "domain": false}},
    "y": {"field": "group", "type": "nominal", "sort": ["HER2-low", "HER2-zero"], "scale": {"type": "point", "padding": 0.625},
     "axis": {"title": null, "labelFontSize": 6.4, "labelColor": {"condition": {"test": "datum.value === 'HER2-low'", "value": "#F8766D"}, "value": "#00BFC4"}, "labelPadding": 1, "tickSize": 1.5, "tickColor": "#4d4d4d", "grid": true, "gridColor": "#e9e9e9", "gridWidth": 0.8, "domain": false}},
    "text": {"field": "n", "type": "quantitative"}
   }
  },
  {
   "width": 239, "height": 36,
   "title": {"text": "Number at risk", "anchor": "start", "frame": "group", "fontSize": 6, "fontWeight": "normal", "color": "black", "offset": 0.5},
   "data": {"name": "risk"}, "transform": [{"filter": "datum.panel === 'F'"}],
   "mark": {"type": "text", "fontSize": 5, "color": "black"},
   "encoding": {
    "x": {"field": "time", "type": "quantitative", "scale": {"domain": [-6, 126], "nice": false, "zero": false},
     "axis": {"values": [10,20,30,40,50,60,70,80,90,100,110,120], "tickCount": 50, "labelExpr": "datum.value % 20 === 0 && datum.value >= 40 ? datum.label : ''", "format": "d", "title": "Time", "titleFontSize": 6, "titleFontWeight": "normal", "titleColor": "black", "titlePadding": 1, "labelFontSize": 3.5, "labelColor": "#4d4d4d", "labelPadding": 0.5, "labelOverlap": false, "labelFlush": false, "ticks": false, "grid": true, "gridColor": "#e9e9e9", "gridWidth": {"condition": {"test": "datum.value % 20 === 0", "value": 0.8}, "value": 0.4}, "domain": false}},
    "y": {"field": "group", "type": "nominal", "sort": ["HER2-low", "HER2-zero"], "scale": {"type": "point", "padding": 0.625},
     "axis": {"title": null, "labelFontSize": 6.4, "labelColor": {"condition": {"test": "datum.value === 'HER2-low'", "value": "#F8766D"}, "value": "#00BFC4"}, "labelPadding": 1, "tickSize": 1.5, "tickColor": "#4d4d4d", "grid": true, "gridColor": "#e9e9e9", "gridWidth": 0.8, "domain": false}},
    "text": {"field": "n", "type": "quantitative"}
   }
  }
 ]
}
